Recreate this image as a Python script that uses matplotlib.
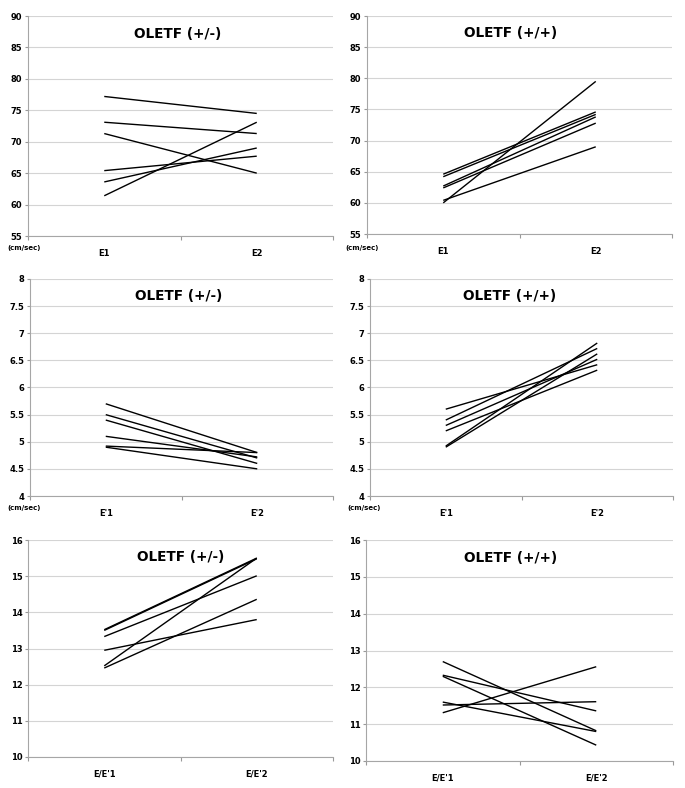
import matplotlib
matplotlib.use("Agg")
import matplotlib.pyplot as plt

# E (cm/sec)
e_het_1 = [77.2, 73.1, 71.3, 65.4, 63.6, 61.4]
e_het_2 = [74.5, 71.3, 65.0, 67.7, 69.0, 73.1]
e_hom_1 = [64.6, 64.2, 62.7, 62.4, 60.4, 60.0]
e_hom_2 = [74.6, 74.2, 73.8, 72.8, 69.0, 79.5]

# E' (cm/sec)
ep_het_1 = [5.7, 5.5, 5.4, 5.1, 4.92, 4.9]
ep_het_2 = [4.8, 4.7, 4.6, 4.72, 4.8, 4.5]
ep_hom_1 = [5.6, 5.4, 5.3, 5.2, 4.92, 4.9]
ep_hom_2 = [6.42, 6.72, 6.52, 6.32, 6.82, 6.62]

# E/E'
ee_het_1 = [13.52, 13.5, 13.33, 12.95, 12.52, 12.46]
ee_het_2 = [15.5, 15.48, 15.01, 13.8, 15.5, 14.36]
ee_hom_1 = [12.7, 12.33, 12.3, 11.6, 11.52, 11.31]
ee_hom_2 = [10.82, 11.36, 10.43, 10.8, 11.61, 12.56]

cats_e = ["E1", "E2"]
cats_ep = ["E'1", "E'2"]
cats_ee = ["E/E'1", "E/E'2"]
titles = ["OLETF (+/-)", "OLETF (+/+)"]
unit = "(cm/sec)"

W, H = 685, 788
fig = plt.figure(figsize=(W / 100, H / 100), dpi=100)


def px_axes(left, right, top, bottom):
    return fig.add_axes([left / W, 1 - bottom / H, (right - left) / W, (bottom - top) / H])


def panel(ax, v1, v2, cats, title, ylim, step, tx=0.49):
    for a, b in zip(v1, v2):
        ax.plot([0.5, 1.5], [a, b], color="black", lw=1.0, solid_capstyle="butt")
    ax.set_xlim(0, 2)
    ax.set_ylim(*ylim)
    ticks = []
    t = ylim[0]
    while t <= ylim[1] + 1e-9:
        ticks.append(round(t, 2))
        t += step
    ax.set_yticks(ticks)
    ax.set_yticklabels([f"{v:g}" for v in ticks], fontsize=6, fontweight="bold")
    ax.yaxis.grid(True, color="#d4d4d4", lw=0.8)
    ax.set_axisbelow(True)
    ax.set_xticks([0, 1, 2])
    ax.set_xticklabels([])
    ax.set_xticks([0.5, 1.5], minor=True)
    ax.set_xticklabels(cats, minor=True, fontsize=6, fontweight="bold")
    ax.tick_params(axis="x", which="major", length=3, color="#999999", direction="out")
    ax.tick_params(axis="x", which="minor", length=0, pad=9)
    ax.tick_params(axis="y", length=2, color="#999999", pad=2)
    for s in ["top", "right"]:
        ax.spines[s].set_visible(False)
    for s in ["left", "bottom"]:
        ax.spines[s].set_color("#a6a6a6")
        ax.spines[s].set_linewidth(0.8)
    ax.text(tx, 0.92, title, transform=ax.transAxes, ha="center", va="center",
            fontsize=9.8, fontweight="bold")


ax1 = px_axes(28, 333, 16, 236)
panel(ax1, e_het_1, e_het_2, cats_e, titles[0], (55, 90), 5)
ax2 = px_axes(367, 672, 16, 234)
panel(ax2, e_hom_1, e_hom_2, cats_e, titles[1], (55, 90), 5, tx=0.47)
ax3 = px_axes(30, 333, 279, 496)
panel(ax3, ep_het_1, ep_het_2, cats_ep, titles[0], (4, 8), 0.5)
ax4 = px_axes(370, 673, 279, 496)
panel(ax4, ep_hom_1, ep_hom_2, cats_ep, titles[1], (4, 8), 0.5, tx=0.46)
ax5 = px_axes(28, 333, 540, 757)
panel(ax5, ee_het_1, ee_het_2, cats_ee, titles[0], (10, 16), 1, tx=0.5)
ax6 = px_axes(366, 673, 540, 761)
panel(ax6, ee_hom_1, ee_hom_2, cats_ee, titles[1], (10, 16), 1, tx=0.47)

# unit labels under the y axes of the top four panels
for x, y in [(7, 248), (345, 248), (7, 508), (347, 508)]:
    fig.text(x / W, 1 - y / H, unit, ha="left", va="center", fontsize=5, fontweight="bold")

fig.savefig("out.png", dpi=100)
